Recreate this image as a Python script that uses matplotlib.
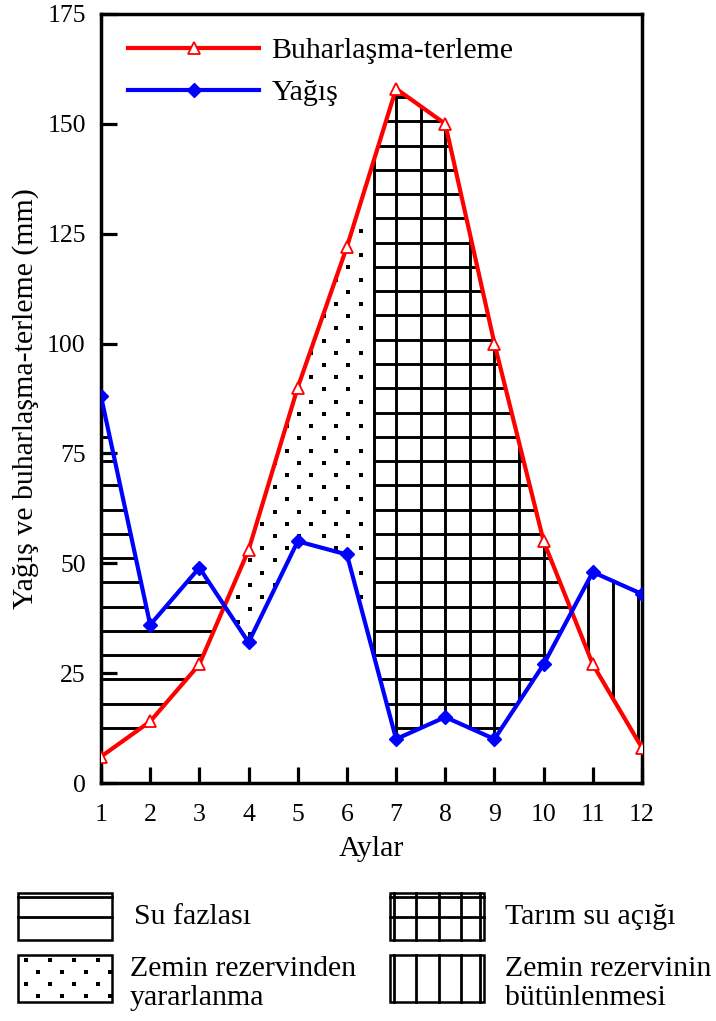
import matplotlib
matplotlib.use("Agg")
import matplotlib.pyplot as plt
import numpy as np
from matplotlib.patches import Polygon, Rectangle

plt.rcParams["font.family"] = ["Liberation Serif", "DejaVu Serif"]

# monthly values (mm)
months = np.arange(1, 13)
evapotranspiration = [6, 14, 27, 53, 90, 122, 158, 150, 100, 55, 27, 8]
precipitation = [88, 36, 49, 32, 55, 52, 10, 15, 10, 27, 48, 43]
reserve_end = 6.55  # month where soil reserve use ends and deficit starts

et_label = "Buharlaşma-terleme"
p_label = "Yağış"
region_labels = ["Su fazlası", "Zemin rezervinden\nyararlanma",
                 "Tarım su açığı", "Zemin rezervinin\nbütünlenmesi"]

RED = "#ff0000"
BLUE = "#0000ff"
LW_HATCH = 2.1
FS = 21.5


def crossings(x, a, b):
    """x positions where series a and b cross (linear segments)."""
    d = np.asarray(a, float) - np.asarray(b, float)
    out = []
    for i in range(len(x) - 1):
        if d[i] * d[i + 1] < 0:
            t = d[i] / (d[i] - d[i + 1])
            out.append(x[i] + t * (x[i + 1] - x[i]))
    return out


def band(x0, x1, lower, upper):
    """Polygon between two series over [x0, x1]."""
    xs = np.concatenate([[x0], months[(months > x0) & (months < x1)], [x1]])
    lo = np.interp(xs, months, lower)
    hi = np.interp(xs, months, upper)
    return np.column_stack([np.concatenate([xs, xs[::-1]]),
                            np.concatenate([lo, hi[::-1]])])


def clip_lines(ax, verts, hlines=None, vlines=None):
    patch = Polygon(verts, closed=True, facecolor="none", edgecolor="none")
    ax.add_patch(patch)
    xmin, xmax = verts[:, 0].min(), verts[:, 0].max()
    ymin, ymax = verts[:, 1].min(), verts[:, 1].max()
    for y in (hlines if hlines is not None else []):
        if ymin <= y <= ymax:
            ln, = ax.plot([xmin, xmax], [y, y], color="black", lw=LW_HATCH,
                          solid_capstyle="butt", zorder=2)
            ln.set_clip_path(patch)
    for x in (vlines if vlines is not None else []):
        if xmin <= x <= xmax:
            ln, = ax.plot([x, x], [ymin, ymax], color="black", lw=LW_HATCH,
                          solid_capstyle="butt", zorder=2)
            ln.set_clip_path(patch)
    return patch


fig = plt.figure(figsize=(7.16, 10.21), dpi=100)
ax = fig.add_axes([101 / 716, 1 - 783 / 1021, 541 / 716, 769 / 1021])

cx = crossings(months, precipitation, evapotranspiration)
x_a, x_b = cx[0], cx[-1]

hl = 12.55 + np.arange(0, 30) * 5.52

# water surplus: horizontal hatch
clip_lines(ax, band(1, x_a, evapotranspiration, precipitation), hlines=hl)

# soil reserve use: staggered dots
dot_patch = Polygon(band(x_a, reserve_end, precipitation, evapotranspiration),
                    closed=True, facecolor="none", edgecolor="none")
ax.add_patch(dot_patch)
rows = 125.7 - np.arange(0, 45) * 2.78
dx, dy = [], []
for j, yv in enumerate(rows):
    off = 6.28 if j % 2 == 0 else 6.03
    xs = off - np.arange(0, 8) * 0.5
    dx.extend(xs)
    dy.extend([yv] * len(xs))
sc = ax.scatter(dx, dy, s=5.5, marker="s", color="black", linewidths=0, zorder=2)
sc.set_clip_path(dot_patch)

# agricultural water deficit: grid hatch
clip_lines(ax, band(reserve_end, x_b, precipitation, evapotranspiration),
           hlines=hl, vlines=np.arange(7.0, 10.01, 0.5))
ax.plot([reserve_end, reserve_end],
        [np.interp(reserve_end, months, precipitation),
         np.interp(reserve_end, months, evapotranspiration)],
        color="black", lw=LW_HATCH, zorder=2)

# soil reserve recharge: vertical hatch
clip_lines(ax, band(x_b, 12, evapotranspiration, precipitation),
           vlines=[10.91, 11.41, 11.91])

ax.plot(months, evapotranspiration, color=RED, lw=3.0, marker="^", ms=9,
        mfc="white", mec=RED, mew=1.3, label=et_label, zorder=4)
ax.plot(months, precipitation, color=BLUE, lw=3.0, marker="D", ms=7.5,
        mfc=BLUE, mec=BLUE, label=p_label, zorder=4)

ax.set_xlim(1, 12)
ax.set_ylim(0, 175)
ax.set_xticks(months)
ax.set_yticks(np.arange(0, 176, 25))
ax.tick_params(direction="in", length=11.5, width=2.3, labelsize=18.5)
ax.tick_params(axis="x", pad=15)
ax.tick_params(axis="y", pad=11)
for s in ax.spines.values():
    s.set_linewidth(2.5)
ax.set_xlabel("Aylar", fontsize=FS, labelpad=7)
ax.set_ylabel("Yağış ve buharlaşma-terleme (mm)", fontsize=FS, labelpad=6)

ax.legend(loc="upper left", frameon=False, fontsize=FS, numpoints=1,
          handlelength=4.4, handletextpad=0.4, labelspacing=0.5,
          borderaxespad=0.0, bbox_to_anchor=(0.028, 0.985))

# pattern key below the chart, drawn in pixel coordinates
key = fig.add_axes([0, 0, 1, 1], facecolor="none")
key.set_xlim(0, 716)
key.set_ylim(1021, 0)
key.set_axis_off()


def key_box(x0, y0, kind, label, tx):
    w, h = 94, 47
    key.add_patch(Rectangle((x0, y0), w, h, fill=False, edgecolor="black", lw=1.8))
    if kind in ("h", "grid"):
        for y in (y0 + 4, y0 + h / 2):
            key.plot([x0, x0 + w], [y, y], color="black", lw=2.0)
    if kind in ("v", "grid"):
        for x in (x0 + 4, x0 + w * 0.28, x0 + w * 0.52, x0 + w * 0.76, x0 + w - 4):
            key.plot([x, x], [y0, y0 + h], color="black", lw=2.0)
    if kind == "dots":
        px, py = [], []
        for j, y in enumerate(np.arange(y0 + 5, y0 + h, 12)):
            start = x0 + 8 if j % 2 == 0 else x0 + 20
            for x in np.arange(start, x0 + w, 24):
                px.append(x)
                py.append(y)
        key.scatter(px, py, s=5.5, marker="s", color="black", linewidths=0)
    ty = y0 + h / 2 + (5 if "\n" in label else 0)
    key.text(tx, ty, label, fontsize=FS, va="center",
             ha="left", linespacing=1.12)


key_box(18, 893, "h", region_labels[0], 134)
key_box(18, 955, "dots", region_labels[1], 130)
key_box(390, 893, "grid", region_labels[2], 505)
key_box(390, 955, "v", region_labels[3], 505)

fig.savefig("out.png", dpi=100, facecolor="white")
